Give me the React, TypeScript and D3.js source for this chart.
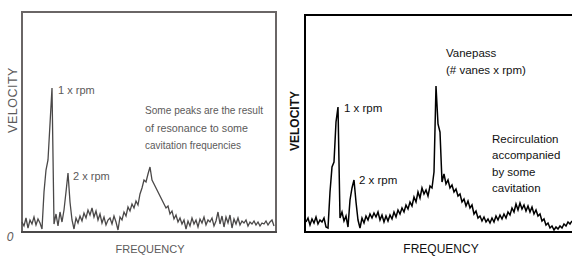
import * as d3 from "d3";

// velocity readings at evenly spaced frequency steps (arbitrary units)
const leftVelocity = [
  10, 6, 14, 4, 12, 8, 15, 7, 13, 9, 3, 40, 62, 72, 108, 144, 8, 18, 6, 20,
  10, 22, 40, 59, 30, 12, 3, 14, 9, 16, 11, 19, 14, 22, 17, 24, 15, 21, 12, 18,
  9, 15, 7, 12, 14, 8, 16, 10, 2, 15, 12, 20, 16, 25, 21, 28, 24, 31, 27, 38,
  44, 52, 50, 58, 65, 52, 48, 44, 40, 36, 32, 28, 24, 26, 18, 21, 13, 17, 10, 14,
  8, 12, 3, 11, 6, 14, 8, 12, 5, 13, 9, 15, 7, 12, 10, 14, 6, 11, 20, 8,
  16, 5, 15, 9, 17, 4, 13, 8, 14, 7, 11, 9, 12, 6, 10, 8, 11, 7, 10, 6,
  9, 8, 11, 7, 10, 12, 6,
];

const rightVelocity = [
  10, 14, 7, 13, 9, 15, 8, 12, 10, 14, 5, 4, 40, 65, 70, 110, 125, 14, 20, 11,
  16, 5, 32, 44, 52, 30, 12, 4, 14, 9, 16, 12, 18, 14, 19, 15, 20, 12, 17, 10,
  16, 11, 17, 13, 20, 15, 22, 18, 24, 20, 27, 23, 30, 26, 35, 30, 40, 34, 44, 38,
  42, 36, 46, 44, 60, 146, 108, 100, 50, 58, 48, 52, 44, 47, 40, 43, 36, 38, 30, 33,
  26, 31, 24, 27, 18, 21, 14, 16, 11, 15, 10, 13, 9, 14, 10, 16, 12, 17, 13, 18,
  14, 20, 17, 24, 20, 28, 22, 29, 23, 27, 21, 26, 20, 25, 18, 22, 16, 18, 11, 13,
  7, 9, 4, 6, 2, 5, 3, 6, 4, 8, 6, 10, 8, 11,
];

const leftNote = ["Some peaks are the result", "of resonance to some", "cavitation frequencies"];
const leftNoteWidths = [118, 103, 96];
const vaneNote = ["Vanepass", "(# vanes x rpm)"];
const recircNote = ["Recirculation", "accompanied", "by some", "cavitation"];

const font = "'Liberation Sans', Arial, sans-serif";

export default function App() {
  // left panel
  const xL = d3.scaleLinear().domain([0, 127]).range([22, 276]);
  const yL = d3.scaleLinear().domain([0, 220]).range([232, 12]);
  const lineL = d3
    .line<number>()
    .x((_, i) => xL(i))
    .y((d) => yL(d));

  // right panel
  const xR = d3.scaleLinear().domain([0, 133]).range([306, 572]);
  const yR = d3.scaleLinear().domain([0, 217]).range([232, 15]);
  const lineR = d3
    .line<number>()
    .x((_, i) => xR(i))
    .y((d) => yR(d));

  const gray = "#5c5a5a";

  return (
    <svg
      width={572}
      height={257}
      style={{ position: "absolute", left: 0, top: 0, background: "#fff" }}
      fontFamily={font}
    >
      {/* left chart */}
      <rect x={22} y={12} width={254} height={220} fill="none" stroke="#6a6666" strokeWidth={2} />
      <line x1={21} x2={277} y1={232} y2={232} stroke="#4a4848" strokeWidth={2.2} />
      <path d={lineL(leftVelocity) ?? ""} fill="none" stroke="#4a4848" strokeWidth={1.3} />
      <text x={58} y={94} fontSize={11} fill={gray}>1 x rpm</text>
      <text x={73} y={180} fontSize={11} fill={gray}>2 x rpm</text>
      {leftNote.map((t, i) => (
        <text
          key={t}
          x={145}
          y={114 + i * 17.5}
          fontSize={11}
          fill={gray}
          textLength={leftNoteWidths[i]}
          lengthAdjust="spacingAndGlyphs"
        >
          {t}
        </text>
      ))}
      <text
        transform="translate(17,100) rotate(-90)"
        textAnchor="middle"
        fontSize={12.5}
        fill={gray}
        letterSpacing={0.5}
      >
        VELOCITY
      </text>
      <text x={10} y={241} fontSize={12} fill={gray} fontStyle="italic" textAnchor="middle">0</text>
      <text x={150} y={253} fontSize={11} fill={gray} textAnchor="middle">FREQUENCY</text>

      {/* right chart */}
      <line x1={305} x2={572} y1={15} y2={15} stroke="#000" strokeWidth={2} />
      <line x1={305} x2={305} y1={14} y2={233} stroke="#000" strokeWidth={2} />
      <line x1={304} x2={572} y1={232} y2={232} stroke="#000" strokeWidth={2} />
      <path d={lineR(rightVelocity) ?? ""} fill="none" stroke="#000" strokeWidth={1.5} />
      <text x={344} y={112} fontSize={11.5} fill="#111">1 x rpm</text>
      <text x={359} y={184} fontSize={11.5} fill="#111">2 x rpm</text>
      {vaneNote.map((t, i) => (
        <text key={t} x={446} y={57 + i * 17} fontSize={11.5} fill="#111">
          {t}
        </text>
      ))}
      {recircNote.map((t, i) => (
        <text key={t} x={492} y={143 + i * 16.3} fontSize={11.5} fill="#111">
          {t}
        </text>
      ))}
      <text
        transform="translate(299,121) rotate(-90)"
        textAnchor="middle"
        fontSize={12}
        fontWeight="bold"
        fill="#111"
      >
        VELOCITY
      </text>
      <text x={441} y={253} fontSize={12} fill="#111" textAnchor="middle">FREQUENCY</text>
    </svg>
  );
}
